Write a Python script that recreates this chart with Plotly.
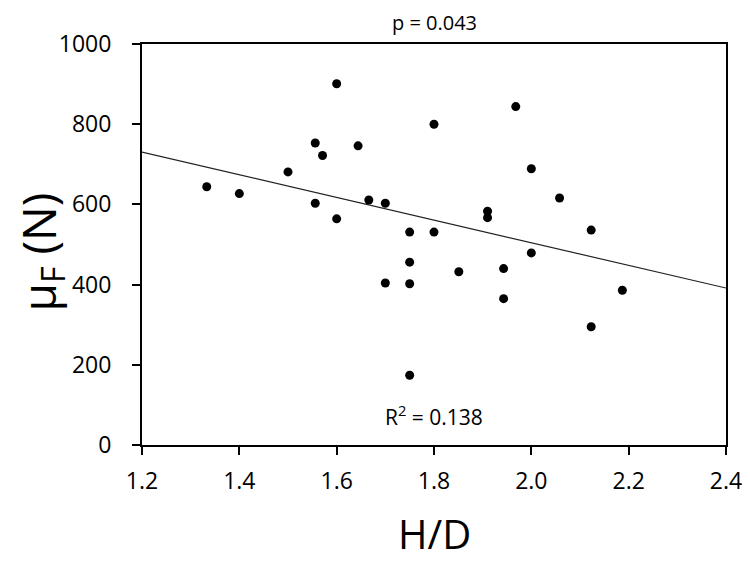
import numpy as np
import plotly.graph_objects as go

hd = [1.333, 1.4, 1.5, 1.556, 1.556, 1.571, 1.6, 1.6, 1.644, 1.666,
      1.7, 1.7, 1.75, 1.75, 1.75, 1.75, 1.8, 1.8, 1.851, 1.91,
      1.91, 1.943, 1.943, 1.968, 2.0, 2.0, 2.058, 2.123, 2.123, 2.187]
mu_f = [644, 627, 681, 753, 603, 722, 901, 564, 746, 611,
        603, 404, 531, 456, 402, 174, 531, 800, 432, 583,
        567, 440, 365, 844, 689, 479, 616, 536, 295, 386]

x_ticks = [1.2, 1.4, 1.6, 1.8, 2.0, 2.2, 2.4]
x_tick_labels = ["1.2", "1.4", "1.6", "1.8", "2.0", "2.2", "2.4"]
y_ticks = [0, 200, 400, 600, 800, 1000]
x_range = [1.2, 2.4]
y_range = [0, 1000]

slope, intercept = np.polyfit(hd, mu_f, 1)
line_x = np.array(x_range)
line_y = slope * line_x + intercept

FONT = "Open Sans"

fig = go.Figure()
fig.add_trace(go.Scatter(x=line_x, y=line_y, mode="lines",
                         line=dict(color="#222222", width=1.2), showlegend=False,
                         hoverinfo="skip"))
fig.add_trace(go.Scatter(x=hd, y=mu_f, mode="markers",
                         marker=dict(color="black", size=9), showlegend=False))

fig.update_layout(
    width=750, height=562,
    margin=dict(l=134, r=32, t=36, b=125),
    paper_bgcolor="white", plot_bgcolor="white",
    font=dict(family=FONT, color="black"),
    annotations=[
        dict(text="p = 0.043", x=0.5, y=1.0, xref="paper", yref="paper",
             xanchor="center", yanchor="middle", yshift=22, borderpad=0,
             showarrow=False, font=dict(size=20, family=FONT)),
        dict(text="R<sup>2</sup> = 0.138", x=0.5, y=0.0, xref="paper", yref="paper",
             xanchor="center", yanchor="middle", yshift=30, showarrow=False,
             font=dict(size=21, family=FONT)),
        dict(text="H/D", x=0.5, y=0.0, xref="paper", yref="paper",
             xanchor="center", yanchor="middle", yshift=-88, showarrow=False,
             font=dict(size=40, family=FONT)),
        dict(text="μ<sub>F</sub> (N)", x=0.0, y=0.5, xref="paper", yref="paper",
             xanchor="center", yanchor="middle", xshift=-102, yshift=-8,
             textangle=-90, showarrow=False,
             font=dict(size=46, family=FONT)),
    ],
)
fig.update_xaxes(range=x_range, tickvals=x_ticks, ticktext=x_tick_labels,
                 showline=True, linecolor="black", linewidth=2, mirror=True,
                 ticks="outside", ticklen=8, tickwidth=2, tickcolor="black",
                 ticklabelstandoff=6,
                 showgrid=False, zeroline=False,
                 tickfont=dict(size=23, family=FONT))
fig.update_yaxes(range=y_range, tickvals=y_ticks,
                 showline=True, linecolor="black", linewidth=2, mirror=True,
                 ticks="outside", ticklen=8, tickwidth=2, tickcolor="black",
                 ticklabelstandoff=16,
                 showgrid=False, zeroline=False,
                 tickfont=dict(size=23, family=FONT))

fig.write_html("out.html")
